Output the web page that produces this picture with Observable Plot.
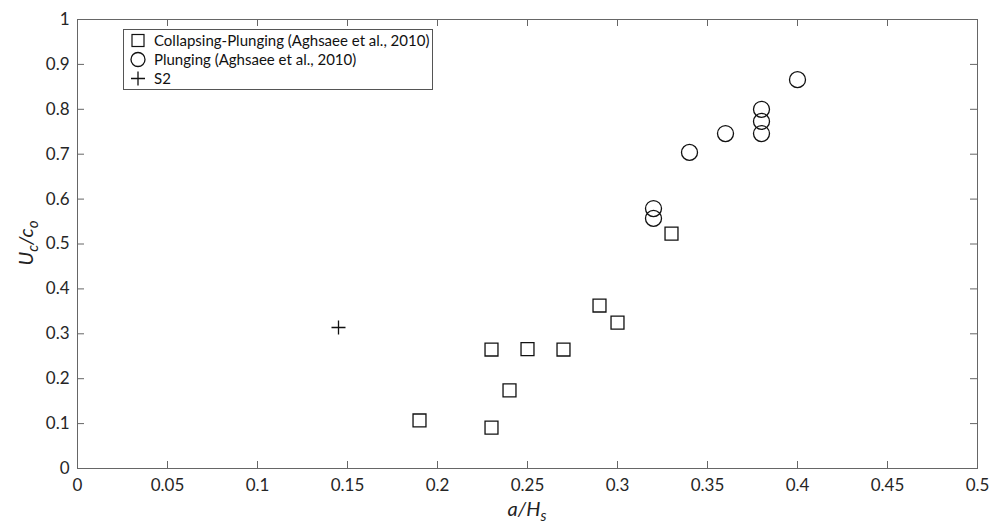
<!DOCTYPE html>
<html>
<head>
<meta charset="utf-8">
<script src="https://cdn.jsdelivr.net/npm/d3@7"></script>
<script src="https://cdn.jsdelivr.net/npm/@observablehq/plot@0.6"></script>
<style>
  html, body { margin: 0; padding: 0; background: #fff; overflow: hidden; }
  #wrap { position: relative; width: 992px; height: 524px; font-family: Lato, "Open Sans", sans-serif; }
  #legend { position: absolute; left: 123px; top: 29px; width: 310px; height: 61px; border: 1px solid #555; background: #fff; box-sizing: border-box; font-size: 15px; color: #111; padding-top: 1px; }
  #legend .row { height: 19px; line-height: 19px; display: flex; align-items: center; white-space: nowrap; }
  #legend svg { width: 24px; height: 19px; flex: none; margin-left: 2px; }
  .xlabel { position: absolute; left: 527px; top: 498px; transform: translateX(-50%); font-size: 20px; line-height: 20px; font-style: italic; color: #222; white-space: nowrap; }
  .ylabel { position: absolute; left: 25px; top: 243px; transform: translate(-50%, -50%) rotate(-90deg); font-size: 20px; font-style: italic; color: #222; white-space: nowrap; }
  sub { font-size: 0.75em; vertical-align: -0.3em; line-height: 0; }
</style>
</head>
<body>
<div id="wrap"></div>
<script>
// Data
const collapsingX = [0.19, 0.23, 0.23, 0.24, 0.25, 0.27, 0.29, 0.30, 0.33];
const collapsingY = [0.107, 0.091, 0.265, 0.174, 0.266, 0.265, 0.363, 0.325, 0.523];
const plungingX = [0.32, 0.32, 0.34, 0.36, 0.38, 0.38, 0.38, 0.40];
const plungingY = [0.579, 0.557, 0.704, 0.746, 0.800, 0.773, 0.746, 0.866];
const s2X = [0.145];
const s2Y = [0.314];
const xTicks = [0, 0.05, 0.1, 0.15, 0.2, 0.25, 0.3, 0.35, 0.4, 0.45, 0.5];
const yTicks = [0, 0.1, 0.2, 0.3, 0.4, 0.5, 0.6, 0.7, 0.8, 0.9, 1];
const legendLabels = ["Collapsing-Plunging (Aghsaee et al., 2010)", "Plunging (Aghsaee et al., 2010)", "S2"];

const collapsing = collapsingX.map((x, i) => ({x, y: collapsingY[i]}));
const plunging = plungingX.map((x, i) => ({x, y: plungingY[i]}));
const s2 = s2X.map((x, i) => ({x, y: s2Y[i]}));

const plusSymbol = {
  draw(ctx, size) {
    const r = Math.sqrt(size / Math.PI);
    ctx.moveTo(-r, 0); ctx.lineTo(r, 0);
    ctx.moveTo(0, -r); ctx.lineTo(0, r);
  }
};

const W = 992, H = 524;
const mL = 77, mR = 15, mT = 19, mB = 56;
const innerW = W - mL - mR, innerH = H - mT - mB;
const tickLen = 7;
const axisColor = "#666";
const fmt = d => String(d);

const chart = Plot.plot({
  width: W, height: H,
  marginLeft: mL, marginRight: mR, marginTop: mT, marginBottom: mB,
  style: { fontFamily: "Lato, 'Open Sans', sans-serif", fontSize: "17px", color: "#262626", background: "#fff" },
  x: { domain: [0, 0.5], axis: null },
  y: { domain: [0, 1], axis: null },
  marks: [
    Plot.frame({ stroke: axisColor, strokeWidth: 1 }),
    Plot.ruleX(xTicks, { x: d => d, stroke: axisColor, insetTop: innerH - tickLen }),
    Plot.ruleX(xTicks, { x: d => d, stroke: axisColor, insetBottom: innerH - tickLen }),
    Plot.ruleY(yTicks, { y: d => d, stroke: axisColor, insetRight: innerW - tickLen }),
    Plot.ruleY(yTicks, { y: d => d, stroke: axisColor, insetLeft: innerW - tickLen }),
    Plot.axisX({ ticks: xTicks, tickFormat: fmt, tickSize: 0, tickPadding: 10, label: null, fill: "#262626" }),
    Plot.axisY({ ticks: yTicks, tickFormat: fmt, tickSize: 0, tickPadding: 8, label: null, fill: "#262626" }),
    Plot.dot(collapsing, { x: "x", y: "y", symbol: "square", r: 7.3, stroke: "#111", strokeWidth: 1.3, fill: "none" }),
    Plot.dot(plunging, { x: "x", y: "y", symbol: "circle", r: 8, stroke: "#111", strokeWidth: 1.3, fill: "none" }),
    Plot.dot(s2, { x: "x", y: "y", symbol: plusSymbol, r: 7, stroke: "#111", strokeWidth: 1.3, fill: "none" })
  ]
});

const wrap = document.getElementById("wrap");
wrap.appendChild(chart);

const legend = document.createElement("div");
legend.id = "legend";
const icons = [
  '<svg viewBox="-12 -9.5 24 19"><rect x="-6" y="-6" width="12" height="12" fill="none" stroke="#111" stroke-width="1.2"/></svg>',
  '<svg viewBox="-12 -9.5 24 19"><circle r="7" fill="none" stroke="#111" stroke-width="1.3"/></svg>',
  '<svg viewBox="-12 -9.5 24 19"><path d="M-7,0H7M0,-7V7" fill="none" stroke="#111" stroke-width="1.3"/></svg>'
];
legendLabels.forEach((lab, i) => {
  const row = document.createElement("div");
  row.className = "row";
  row.innerHTML = icons[i] + '<span style="margin-left:4px">' + lab + '</span>';
  legend.appendChild(row);
});
wrap.appendChild(legend);

const xl = document.createElement("div");
xl.className = "xlabel";
xl.innerHTML = "a/H<sub>s</sub>";
wrap.appendChild(xl);

const yl = document.createElement("div");
yl.className = "ylabel";
yl.innerHTML = "U<sub>c</sub>/c<sub>o</sub>";
wrap.appendChild(yl);
</script>
</body>
</html>
